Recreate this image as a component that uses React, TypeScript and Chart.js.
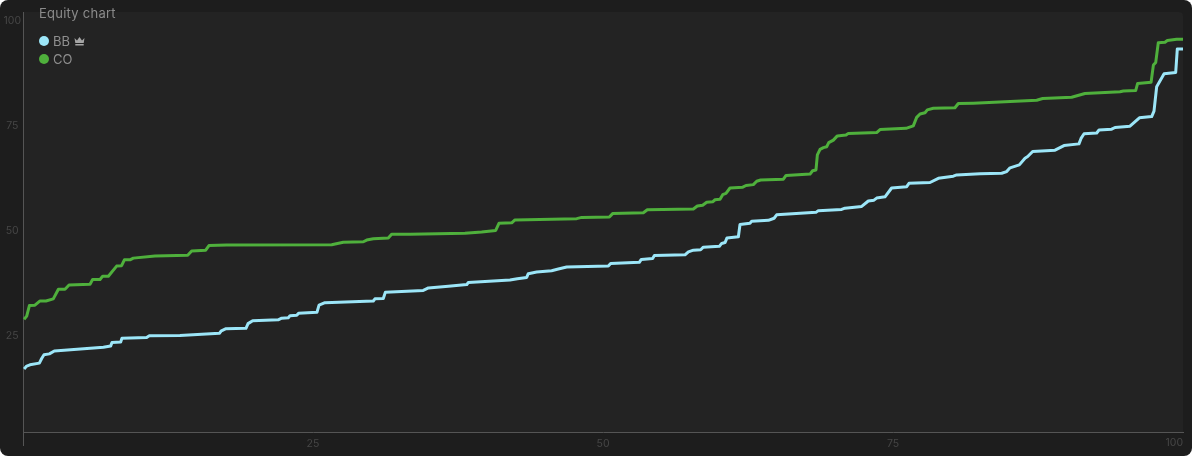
import { useEffect, useRef } from 'react';
import { Chart, Plugin, registerables } from 'chart.js';

Chart.register(...registerables);

const xTickValues = [25, 50, 75];
const yTickValues = [25, 50, 75, 100];

const coX = [
  0.09, 0.32, 0.55, 1.03, 1.47, 1.98, 2.61, 3.05, 3.62, 3.97, 5.78, 6.0, 6.64, 6.87, 7.36, 8.07, 8.5, 8.74, 9.22, 9.51,
  11.38, 14.2, 14.54, 15.75, 16.03, 17.56, 26.61, 27.61, 29.34, 29.63, 30.2, 31.49, 31.78, 33.36, 38.1, 39.54, 40.75,
  41.03, 42.13, 42.41, 47.73, 48.16, 50.55, 50.83, 53.48, 53.82, 57.79, 58.13, 58.59, 58.94, 59.45, 59.66, 60.09,
  60.32, 60.6, 60.95, 62.05, 62.33, 62.96, 63.25, 63.59, 65.55, 65.78, 67.85, 68.07, 68.36, 68.48, 68.71, 69.0, 69.28,
  69.46, 69.86, 70.2, 70.95, 71.15, 73.59, 73.88, 76.12, 76.75, 77.04, 77.33, 77.76, 77.96, 78.48, 80.34, 80.63,
  81.92, 87.39, 87.9, 90.4, 91.55, 94.57, 94.86, 95.92, 96.09, 97.25, 97.45, 97.65, 97.87, 98.45, 98.65, 99.45, 100,
];
const coY = [
  26.8, 27.6, 30.1, 30.2, 31.2, 31.2, 31.7, 34.0, 34.0, 35.0, 35.2, 36.3, 36.3, 37.1, 37.1, 39.5, 39.6, 41.0, 41.0, 41.4,
  41.9, 42.1, 43.1, 43.3, 44.4, 44.5, 44.6, 45.2, 45.3, 45.7, 46.0, 46.2, 47.1, 47.1, 47.3, 47.6, 48.0,
  49.7, 49.8, 50.5, 50.8, 51.1, 51.2, 52.0, 52.2, 52.9, 53.1, 53.8, 54.0, 54.7, 54.8, 55.3, 55.4,
  56.5, 56.8, 58.1, 58.3, 58.7, 58.9, 59.7, 60.0, 60.2, 61.1, 61.4, 62.2, 62.4, 66.0, 67.3, 67.7, 67.9,
  68.9, 69.5, 70.5, 70.7, 71.1, 71.3, 72.0, 72.3, 72.9, 74.9, 75.7, 76.0, 76.7, 77.1, 77.2, 78.2,
  78.3, 79.0, 79.4, 79.7, 80.6, 81.0, 81.2, 81.3, 83.0, 83.3, 87.4, 88.0, 92.7, 92.8, 93.2, 93.5, 93.5,
];

const bbX = [
  0.09, 0.32, 0.6, 1.41, 1.61, 1.81, 2.27, 2.7, 6.93, 7.56, 7.67, 8.42, 8.53, 10.66, 10.89, 13.53, 16.93, 17.1, 17.5,
  19.22, 19.4, 19.8, 22.0, 22.3, 22.87, 23.02, 23.6, 23.76, 25.34, 25.52, 26.03, 30.2, 30.34, 31.06, 31.24, 34.51,
  34.95, 36.67, 38.26, 38.39, 41.98, 42.62, 43.42, 43.56, 44.28, 45.57, 46.15, 46.87, 50.46, 50.66, 53.13, 53.3,
  54.28, 54.43, 57.07, 57.36, 57.79, 58.42, 58.65, 60.03, 60.23, 60.52, 60.69, 61.67, 61.81, 62.67, 62.82, 64.26,
  64.75, 64.97, 68.36, 68.56, 70.57, 70.86, 72.3, 72.87, 73.36, 73.59, 74.31, 74.88, 76.18, 76.38, 78.19, 78.91,
  80.2, 80.49, 82.5, 84.37, 84.8, 85.09, 85.89, 86.38, 86.61, 87.04, 88.97, 89.74, 91.03, 91.21, 91.47, 92.56, 92.76,
  93.85, 94.14, 95.43, 96.24, 97.3, 97.5, 97.73, 98.37, 99.37, 99.51, 100,
];
const bbY = [
  15.0, 15.7, 16.0, 16.4, 17.5, 18.4, 18.6, 19.3, 20.2, 20.5, 21.3, 21.4, 22.3, 22.5, 22.9, 23.0, 23.5, 24.1, 24.6,
  24.7, 25.8, 26.5, 26.7, 27.1, 27.2, 27.7, 27.8, 28.3, 28.5, 30.2, 30.8, 31.2, 31.7, 31.8, 33.3, 33.7,
  34.3, 34.7, 35.1, 35.6, 36.2, 36.5, 36.8, 37.7, 38.1, 38.4, 38.8, 39.3, 39.5, 40.1, 40.4, 41.1,
  41.3, 42.0, 42.2, 42.9, 43.3, 43.4, 44.0, 44.2, 44.9, 45.1, 46.2, 46.5, 49.4, 49.7, 50.2, 50.4,
  50.9, 51.7, 52.3, 52.7, 53.0, 53.3, 53.7, 55.0, 55.2, 55.7, 56.0, 58.1, 58.4, 59.2, 59.4, 60.4,
  60.9, 61.2, 61.5, 61.6, 62.0, 62.9, 63.6, 65.2, 65.6, 66.8, 67.1, 68.2, 68.6, 69.9, 71.0, 71.2, 71.9,
  72.1, 72.5, 72.8, 74.8, 75.1, 76.4, 82.2, 85.3, 85.6, 91.2, 91.2,
];

const tickColor = '#464646';
const axisColor = '#555555';

// plot panel behind the lines + right aligned "100" on the x axis
const panelPlugin: Plugin<'line'> = {
  id: 'panel',
  beforeDraw(chart) {
    const { ctx, chartArea } = chart;
    ctx.save();
    ctx.fillStyle = '#232323';
    ctx.beginPath();
    ctx.roundRect(chartArea.left, chartArea.top, chartArea.width, chartArea.height, [0, 4, 0, 0]);
    ctx.fill();
    ctx.restore();
  },
  afterDraw(chart) {
    const { ctx, scales } = chart;
    ctx.save();
    ctx.fillStyle = tickColor;
    ctx.font = '10.5px Inter';
    ctx.textAlign = 'right';
    ctx.textBaseline = 'middle';
    ctx.fillText('100', scales.x.getPixelForValue(100), 443);
    ctx.restore();
  },
};

export default function App() {
  const chartRef = useRef<HTMLCanvasElement>(null);

  useEffect(() => {
    if (!chartRef.current) return;
    document.body.style.margin = '0';
    document.body.style.background = '#ffffff';

    const chart = new Chart(chartRef.current, {
      type: 'line',
      data: {
        datasets: [
          {
            label: 'BB',
            data: bbX.map((x, i) => ({ x, y: bbY[i] })),
            borderColor: '#9ce6f8',
            borderWidth: 3,
            borderJoinStyle: 'round',
            pointRadius: 0,
            tension: 0,
          },
          {
            label: 'CO',
            data: coX.map((x, i) => ({ x, y: coY[i] })),
            borderColor: '#4fb03c',
            borderWidth: 3,
            borderJoinStyle: 'round',
            pointRadius: 0,
            tension: 0,
          },
        ],
      },
      options: {
        animation: false,
        responsive: false,
        layout: { padding: { top: 12, right: 9 } },
        plugins: { legend: { display: false }, tooltip: { enabled: false } },
        scales: {
          x: {
            type: 'linear',
            min: 0,
            max: 100,
            afterBuildTicks: (scale) => {
              scale.ticks = [0, ...xTickValues].map((value) => ({ value }));
            },
            afterFit: (scale) => {
              scale.height = 24;
            },
            border: { color: axisColor, width: 1 },
            grid: {
              drawOnChartArea: false,
              tickLength: 14,
              tickColor: (ctx) => (ctx.tick && ctx.tick.value === 0 ? axisColor : 'transparent'),
            },
            ticks: {
              color: tickColor,
              font: { family: 'Inter', size: 10.5 },
              maxRotation: 0,
              padding: -8,
              callback: (value) => (value === 0 ? '' : String(value)),
            },
          },
          y: {
            min: 0,
            max: 100,
            afterBuildTicks: (scale) => {
              scale.ticks = yTickValues.map((value) => ({ value }));
            },
            afterFit: (scale) => {
              scale.width = 23;
            },
            border: { color: axisColor, width: 1 },
            grid: { display: false, drawTicks: false },
            ticks: {
              color: tickColor,
              font: { family: 'Inter', size: 10.5 },
              padding: 2,
              crossAlign: 'center',
              labelOffset: 9,
              callback: (value) => String(value),
            },
          },
        },
      },
      plugins: [panelPlugin],
    });

    return () => {
      chart.destroy();
    };
  }, []);

  return (
    <div style={{ position: 'relative', width: 1192, height: 456, background: '#1d1d1d', borderRadius: 8, overflow: 'hidden', fontFamily: 'Inter' }}>
      <canvas ref={chartRef} width={1192} height={456} style={{ display: 'block' }}></canvas>
      <div style={{ position: 'absolute', left: 39, top: 5, fontSize: 13, letterSpacing: 0.25, lineHeight: '16px', color: '#8b8b8b' }}>Equity chart</div>
      <div style={{ position: 'absolute', left: 39, top: 32, fontSize: 13, lineHeight: '18px', color: '#8f8f8f' }}>
        <div style={{ display: 'flex', alignItems: 'center' }}>
          <span style={{ width: 10, height: 10, borderRadius: '50%', background: '#9ce6f8', marginRight: 4 }}></span>
          BB
          <svg width="11" height="9" viewBox="0 0 11 9" style={{ marginLeft: 4 }}>
            <path d="M0.5 1 L3 3.5 L5.5 0 L8 3.5 L10.5 1 L9.7 6 H1.3 Z M1.3 7 H9.7 V8.6 H1.3 Z" fill="#a5a5a5" />
          </svg>
        </div>
        <div style={{ display: 'flex', alignItems: 'center' }}>
          <span style={{ width: 10, height: 10, borderRadius: '50%', background: '#4fb03c', marginRight: 4 }}></span>
          CO
        </div>
      </div>
    </div>
  );
}
